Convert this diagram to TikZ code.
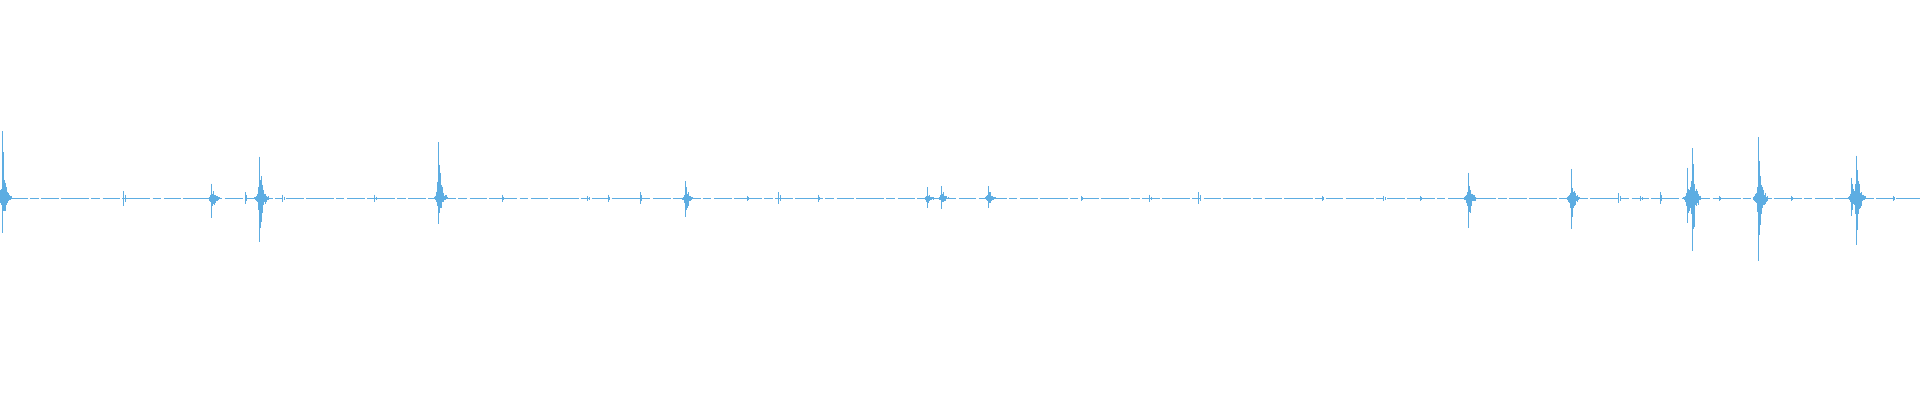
\documentclass[tikz,border=0pt]{standalone}
\usepackage{tikz}
\definecolor{wave}{HTML}{5DADE2}
\tikzset{
  baseline/.style={wave, line width=0.9pt, dash pattern=on 40pt off 3pt on 12pt off 4pt on 25pt off 3pt},
  spike/.style={wave, line width=1.1pt}
}
\begin{document}
\begin{tikzpicture}[x=0.06122cm,y=0.06122cm]
\pgfmathsetseed{7}
\useasboundingbox (0,0) rectangle (1568,326.6);
% Baseline of the signal
\draw[baseline] (0,164.6) -- (1568,164.6);

% Bursts: position / peak up / peak down
\foreach \x/\u/\d in {2/55/28, 173/12/16, 212/34/36, 358/46/21, 560/14/15,
    757/9/8, 769/10/9, 807/10/8, 1199/21/24, 1283/24/25, 1378/25/20,
    1382/41/43, 1436/50/51, 1512/17/14, 1516/35/38}{
  \draw[spike] (\x,164.6+\u) -- (\x,164.6-\d);
  \foreach \k in {1,...,10}{
    \pgfmathsetmacro\a{\u*exp(-0.3*\k)*(0.4+0.6*rnd)}
    \pgfmathsetmacro\b{\d*exp(-0.3*\k)*(0.4+0.6*rnd)}
    \draw[spike] (\x+\k*0.7,164.6+\a) -- (\x+\k*0.7,164.6-\b);
    \draw[spike] (\x-\k*0.4,164.6+\a*0.5) -- (\x-\k*0.4,164.6-\b*0.5);
  }
}

% Small ticks along the line
\foreach \x/\h in {101/6, 200/5, 231/3, 306/3, 410/3, 480/2, 497/3, 523/5, 610/2,
    636/5, 668/3, 883/2, 939/3, 979/5, 1080/2, 1130/2, 1160/2, 1322/4, 1340/2,
    1356/5, 1404/2, 1463/2, 1546/2}{
  \draw[spike] (\x,164.6+\h) -- (\x,164.6-\h);
  \draw[spike] (\x+1,164.6+\h*0.5) -- (\x+1,164.6-\h*0.5);
}
\end{tikzpicture}
\end{document}
